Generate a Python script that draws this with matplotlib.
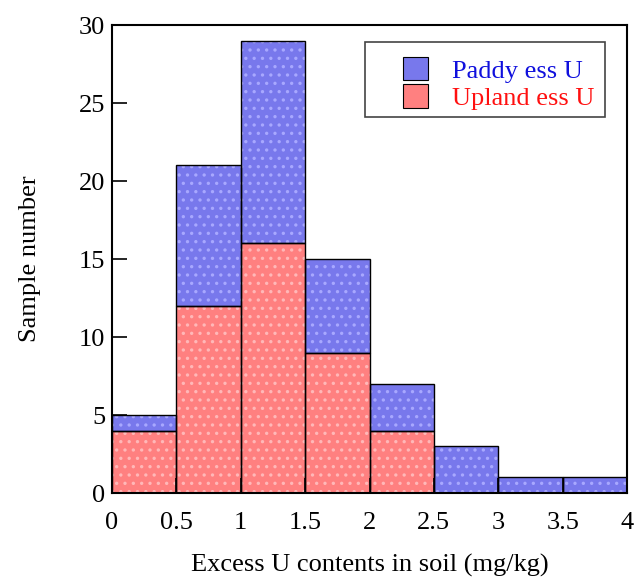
import numpy as np
import matplotlib

matplotlib.use("Agg")
import matplotlib.pyplot as plt
from matplotlib.patches import Patch, Rectangle

# Histogram bins (mg/kg) and counts per bin
bin_edges = [0, 0.5, 1.0, 1.5, 2.0, 2.5, 3.0, 3.5, 4.0]
upland_counts = [4, 12, 16, 9, 4, 0, 0, 0]
paddy_counts = [1, 9, 13, 6, 3, 3, 1, 1]

x_ticks = [0, 0.5, 1, 1.5, 2, 2.5, 3, 3.5, 4]
x_tick_labels = ["0", "0.5", "1", "1.5", "2", "2.5", "3", "3.5", "4"]
y_ticks = [0, 5, 10, 15, 20, 25, 30]

BLUE_FILL = "#7878ec"
RED_FILL = "#ff8080"
BLUE_DOT = "#a8a8ff"
RED_DOT = "#ffb8b8"

plt.rcParams["font.family"] = ["Liberation Serif", "DejaVu Serif"]
plt.rcParams["hatch.linewidth"] = 1.2

fig = plt.figure(figsize=(6.42, 5.8), dpi=100)
ax = fig.add_axes([112 / 642, 1 - 493 / 580, (627 - 112) / 642, (493 - 25) / 580])

edges = np.array(bin_edges)
lefts = edges[:-1]
widths = np.diff(edges)
upland = np.array(upland_counts)
paddy = np.array(paddy_counts)

# filled + dotted layer, then a plain black outline on top
ax.bar(lefts, upland, width=widths, align="edge", color=RED_FILL,
       edgecolor=RED_DOT, linewidth=0, hatch="..")
ax.bar(lefts, paddy, width=widths, bottom=upland, align="edge", color=BLUE_FILL,
       edgecolor=BLUE_DOT, linewidth=0, hatch="..")
ax.bar(lefts, upland, width=widths, align="edge", fill=False,
       edgecolor="black", linewidth=1.0)
ax.bar(lefts, paddy, width=widths, bottom=upland, align="edge", fill=False,
       edgecolor="black", linewidth=1.0)

ax.set_xlim(0, 4)
ax.set_ylim(0, 30)
ax.set_xticks(x_ticks)
ax.set_xticklabels(x_tick_labels)
ax.set_yticks(y_ticks)
ax.tick_params(direction="in", length=11, width=1.2, labelsize=19, pad=5)
ax.tick_params(axis="x", pad=14)
for spine in ax.spines.values():
    spine.set_linewidth(1.5)
    spine.set_zorder(5)

ax.set_xlabel("Excess U contents in soil (mg/kg)", fontsize=19, labelpad=14)
ax.set_ylabel("Sample number", fontsize=19, labelpad=27)

# legend: frame drawn separately so the handles can sit off-centre like the original
ax.add_patch(Rectangle((0.491, 0.803), 0.466, 0.161, transform=ax.transAxes,
                       facecolor="white", edgecolor="#444444", linewidth=1.2,
                       zorder=4))
handles = [
    Patch(facecolor=BLUE_FILL, edgecolor="black", linewidth=0.8),
    Patch(facecolor=RED_FILL, edgecolor="black", linewidth=0.8),
]
leg = ax.legend(handles, ["Paddy ess U", "Upland ess U"], loc="upper left",
                bbox_to_anchor=(0.565, 0.932), fontsize=19, frameon=False,
                handlelength=0.95, handleheight=1.0, handletextpad=0.9,
                borderpad=0, labelspacing=0.05, borderaxespad=0)
leg.set_zorder(6)
for text, col in zip(leg.get_texts(), ["#1010dd", "#ff1010"]):
    text.set_color(col)

fig.savefig("out.png", dpi=100)
